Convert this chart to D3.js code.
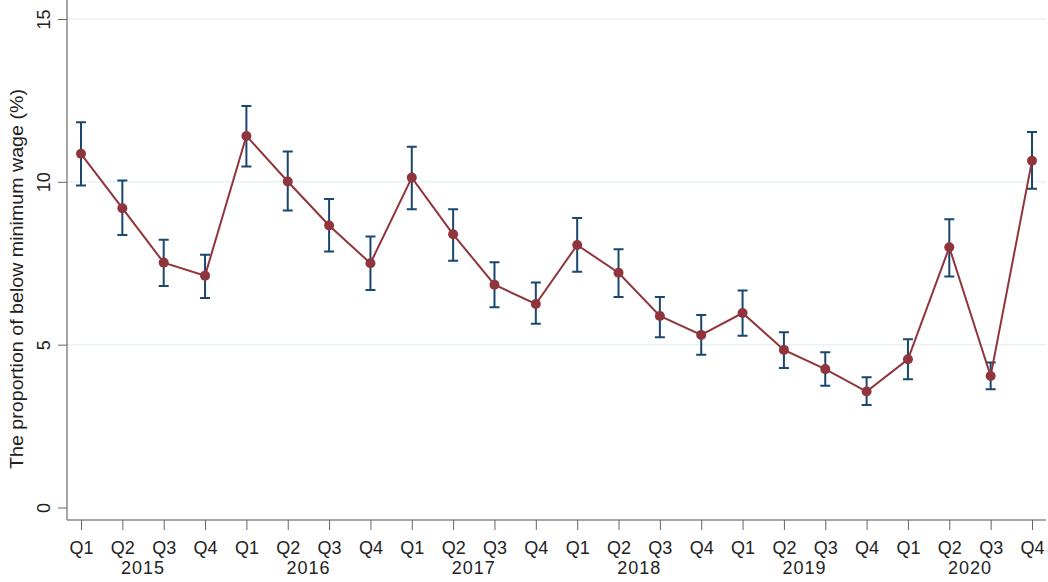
<!DOCTYPE html>
<html>
<head>
<meta charset="utf-8">
<script src="https://cdn.jsdelivr.net/npm/d3@7"></script>
<style>
	body { margin: 0; background: #fff; }
	text { font-family: "Liberation Sans", Arial, sans-serif; fill: #222; }
</style>
</head>
<body>
<div id="chart-placeholder"></div>
<script>
let quarters = ["Q1","Q2","Q3","Q4","Q1","Q2","Q3","Q4","Q1","Q2","Q3","Q4","Q1","Q2","Q3","Q4","Q1","Q2","Q3","Q4","Q1","Q2","Q3","Q4"];
let years = ["2015","2016","2017","2018","2019","2020"];
let estimate = [10.86, 9.19, 7.52, 7.12, 11.41, 10.01, 8.66, 7.50, 10.13, 8.39, 6.84, 6.25, 8.06, 7.21, 5.88, 5.30, 5.97, 4.84, 4.25, 3.56, 4.55, 7.99, 4.04, 10.65];
let upper = [11.83, 10.04, 8.22, 7.76, 12.33, 10.93, 9.47, 8.32, 11.08, 9.16, 7.53, 6.91, 8.89, 7.93, 6.46, 5.91, 6.66, 5.38, 4.77, 4.00, 5.17, 8.85, 4.45, 11.53];
let lower = [9.89, 8.37, 6.80, 6.43, 10.47, 9.12, 7.86, 6.68, 9.16, 7.58, 6.15, 5.64, 7.24, 6.46, 5.23, 4.69, 5.27, 4.28, 3.74, 3.15, 3.94, 7.09, 3.63, 9.79];
let yTicks = [0, 5, 10, 15];

let width = 1048, height = 582;
let plotLeft = 67, plotRight = 1046, plotBottom = 520;

let svg = d3.select("#chart-placeholder")
	.append("svg")
	.attr("width", width)
	.attr("height", height);

let idx = d3.range(quarters.length);

let xScale = d3.scalePoint().domain(idx).range([81, 1032]);
let yScale = d3.scaleLinear().domain([0, 15]).range([507.5, 19]);

// gridlines
svg.selectAll(".grid")
	.data(yTicks.filter(d => d > 0))
	.enter()
	.append("line")
	.attr("x1", plotLeft)
	.attr("x2", plotRight)
	.attr("y1", d => yScale(d))
	.attr("y2", d => yScale(d))
	.attr("stroke", "#e8f1f3")
	.attr("stroke-width", 1.5);

// y axis
let yAxis = d3.axisLeft(yScale).tickValues(yTicks).tickSize(9).tickPadding(4);
let gy = svg.append("g")
	.attr("transform", `translate(${plotLeft}, 0)`)
	.call(yAxis);
gy.select(".domain").attr("stroke", "#8a8a8a").attr("stroke-width", 1.5)
	.attr("d", `M0,${plotBottom}V0`);
gy.selectAll(".tick line").attr("stroke", "#666");
gy.selectAll(".tick text")
	.attr("transform", "rotate(-90)")
	.attr("x", 0)
	.attr("y", -17)
	.attr("dy", 0)
	.attr("text-anchor", "middle")
	.style("font-size", "18px")
	.style("fill", "#222");

// x axis
let xAxis = d3.axisBottom(xScale).tickSize(10).tickFormat(i => quarters[i]);
let gx = svg.append("g")
	.attr("transform", `translate(0, ${plotBottom})`)
	.call(xAxis);
gx.select(".domain").attr("stroke", "#8a8a8a").attr("stroke-width", 1.5)
	.attr("d", `M${plotLeft},0H${plotRight}`);
gx.selectAll(".tick line").attr("stroke", "#666");
gx.selectAll(".tick text")
	.attr("y", 34)
	.attr("dy", 0)
	.style("font-size", "18px")
	.style("fill", "#222");

// year labels under Q2/Q3
svg.selectAll(".year")
	.data(years)
	.enter()
	.append("text")
	.attr("class", "year")
	.attr("x", (d, i) => (xScale(i * 4 + 1) + xScale(i * 4 + 2)) / 2)
	.attr("y", 574)
	.attr("text-anchor", "middle")
	.style("font-size", "18px")
	.style("letter-spacing", "1px")
	.text(d => d);

// y axis title
svg.append("text")
	.attr("transform", "translate(23, 279) rotate(-90)")
	.attr("text-anchor", "middle")
	.attr("textLength", 380)
	.attr("lengthAdjust", "spacingAndGlyphs")
	.style("font-size", "18px")
	.text("The proportion of below minimum wage (%)");

// error bars
let cap = 5;
let bars = svg.append("g").attr("stroke", "#1a476f").attr("stroke-width", 2);
bars.selectAll(".ci")
	.data(idx)
	.enter()
	.append("path")
	.attr("fill", "none")
	.attr("d", i => {
		let x = xScale(i), y1 = yScale(upper[i]), y0 = yScale(lower[i]);
		return `M${x - cap},${y1}H${x + cap}M${x},${y1}V${y0}M${x - cap},${y0}H${x + cap}`;
	});

// line
svg.append("path")
	.datum(idx)
	.attr("fill", "none")
	.attr("stroke", "#90353b")
	.attr("stroke-width", 2)
	.attr("d", d3.line()
		.x(i => xScale(i))
		.y(i => yScale(estimate[i])));

// markers
svg.selectAll(".dot")
	.data(idx)
	.enter()
	.append("circle")
	.attr("cx", i => xScale(i))
	.attr("cy", i => yScale(estimate[i]))
	.attr("r", 5)
	.attr("fill", "#90353b");
</script>
</body>
</html>
